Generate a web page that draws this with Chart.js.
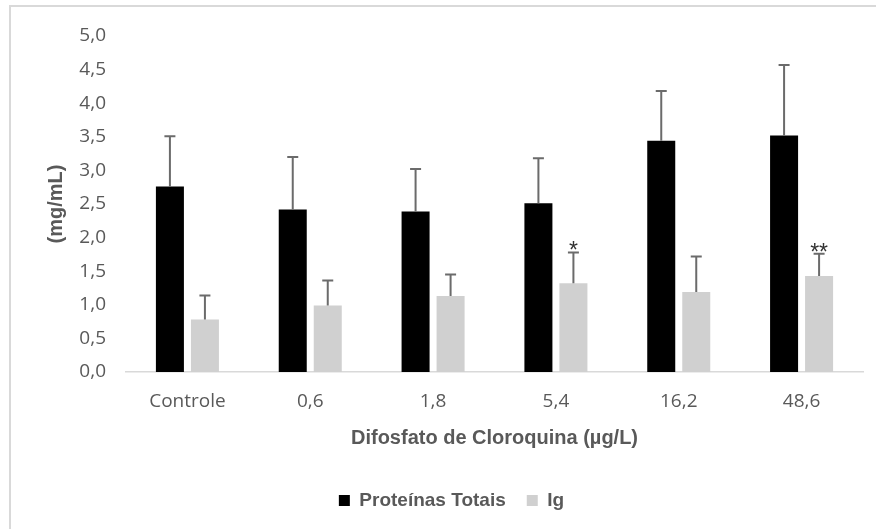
<!DOCTYPE html>
<html>
<head>
<meta charset="utf-8">
<script src="https://cdn.jsdelivr.net/npm/chart.js@4/dist/chart.umd.min.js"></script>
<style>
  html, body { margin: 0; padding: 0; background: #fff; }
  #wrap { width: 876px; height: 529px; }
</style>
</head>
<body>
<div id="wrap"><canvas id="grafico" width="876" height="529"></canvas></div>
<script>
// ── Dados ──
const categorias   = ['Controle', '0,6', '1,8', '5,4', '16,2', '48,6'];
const proteinas    = [2.76, 2.42, 2.39, 2.51, 3.44, 3.52];
const proteinasErr = [0.75, 0.78, 0.63, 0.67, 0.74, 1.05];
const ig           = [0.78, 0.99, 1.13, 1.32, 1.19, 1.43];
const igErr        = [0.36, 0.37, 0.32, 0.46, 0.53, 0.33];
const igSig        = ['', '', '', '*', '', '**'];

const corTexto = '#595959';
const fonteTick = 'Open Sans';
const fonteTit  = 'Liberation Sans';

// fundo branco + moldura cinza
const molduraPlugin = {
    id: 'moldura',
    beforeDraw(chart) {
        const ctx = chart.ctx;
        ctx.save();
        ctx.fillStyle = '#fff';
        ctx.fillRect(0, 0, chart.width, chart.height);
        ctx.strokeStyle = '#d9d9d9';
        ctx.lineWidth = 2;
        ctx.strokeRect(10, 6, chart.width + 20, chart.height + 20);
        ctx.restore();
    }
};

// barras de erro (só para cima) e asteriscos
const erroPlugin = {
    id: 'barrasErro',
    afterDatasetsDraw(chart) {
        const ctx = chart.ctx;
        const y = chart.scales.y;
        ctx.save();
        chart.data.datasets.forEach(function(ds, i) {
            const meta = chart.getDatasetMeta(i);
            meta.data.forEach(function(bar, j) {
                const topo = y.getPixelForValue(ds.data[j] + ds.erros[j]);
                ctx.strokeStyle = '#6b6b6b';
                ctx.lineWidth = 2;
                ctx.beginPath();
                ctx.moveTo(bar.x, bar.y);
                ctx.lineTo(bar.x, topo);
                ctx.moveTo(bar.x - 5.5, topo);
                ctx.lineTo(bar.x + 5.5, topo);
                ctx.stroke();
                if (ds.sig && ds.sig[j]) {
                    ctx.fillStyle = '#333';
                    ctx.font = '23px "Liberation Sans"';
                    ctx.textAlign = 'center';
                    ctx.textBaseline = 'alphabetic';
                    ctx.fillText(ds.sig[j], bar.x, topo + 6);
                }
            });
        });
        ctx.restore();
    }
};

new Chart(document.getElementById('grafico').getContext('2d'), {
    type: 'bar',
    data: {
        labels: categorias,
        datasets: [
            { label: 'Proteínas Totais', data: proteinas, erros: proteinasErr,
              backgroundColor: '#000000', categoryPercentage: 0.57, barPercentage: 0.8 },
            { label: 'Ig', data: ig, erros: igErr, sig: igSig,
              backgroundColor: '#d0d0d0', categoryPercentage: 0.57, barPercentage: 0.8 }
        ]
    },
    options: {
        responsive: false,
        animation: false,
        devicePixelRatio: 1,
        layout: { padding: { left: 40, right: 13, top: 36, bottom: 9 } },
        plugins: {
            legend: {
                position: 'bottom',
                labels: {
                    boxWidth: 11, boxHeight: 11, padding: 21,
                    color: corTexto,
                    font: { family: fonteTit, size: 19, weight: 'bold' }
                }
            },
            tooltip: { enabled: false }
        },
        scales: {
            x: {
                grid: { display: false, drawTicks: false },
                border: { display: true, color: '#d9d9d9', width: 1.5 },
                ticks: { color: corTexto, padding: 18, font: { family: fonteTick, size: 19 } },
                title: {
                    display: true, text: 'Difosfato de Cloroquina (µg/L)',
                    color: corTexto, font: { family: fonteTit, size: 20, weight: 'bold' },
                    padding: { top: 0, bottom: 20 }
                },
                afterFit: function(s) { s.height = 98; }
            },
            y: {
                min: 0, max: 5,
                grid: { display: false, drawTicks: false },
                border: { display: false },
                ticks: {
                    stepSize: 0.5, color: corTexto, padding: 20,
                    font: { family: fonteTick, size: 19 },
                    callback: function(v) { return v.toFixed(1).replace('.', ','); }
                },
                title: {
                    display: true, text: '(mg/mL)',
                    color: corTexto, font: { family: fonteTit, size: 20, weight: 'bold' },
                    padding: { top: 4, bottom: 0 }
                },
                afterFit: function(s) { s.width = 86; }
            }
        }
    },
    plugins: [molduraPlugin, erroPlugin]
});
</script>
</body>
</html>
